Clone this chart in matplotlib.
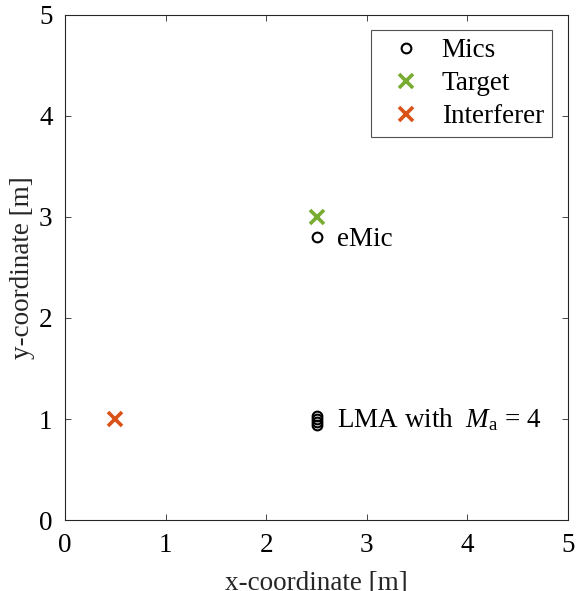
import numpy as np
import matplotlib.pyplot as plt

plt.rcParams['font.family'] = ['Liberation Serif', 'DejaVu Serif']
plt.rcParams['mathtext.fontset'] = 'custom'
plt.rcParams['mathtext.rm'] = 'Liberation Serif'
plt.rcParams['mathtext.it'] = 'Liberation Serif:italic'

# microphone positions: eMic plus 4-element linear array
mic_x = [2.5, 2.5, 2.5, 2.5, 2.5]
mic_y = [2.8, 0.94, 0.97, 1.0, 1.03]
target_x = [2.5]
target_y = [3.0]
interf_x = [0.5]
interf_y = [1.0]

green = '#77AC30'
orange = '#D95319'
fs = 19.5

fig = plt.figure(figsize=(5.76, 5.91), dpi=100)
ax = fig.add_axes([0.113, 0.12, 0.873, 0.855])

ax.plot(mic_x, mic_y, 'o', mfc='none', mec='k', ms=7, mew=1.5, label='Mics')
ax.plot(target_x, target_y, 'x', color=green, ms=10, mew=2.6, label='Target')
ax.plot(interf_x, interf_y, 'x', color=orange, ms=10, mew=2.6, label='Interferer')

ax.text(2.7, 2.78, 'eMic', fontsize=fs, va='center')
ax.text(2.7, 0.99, r'LMA with  $M_{\mathrm{a}}$ = 4', fontsize=fs, va='center')

ax.set_xlim(0, 5)
ax.set_ylim(0, 5)
ax.set_xticks(np.arange(6))
ax.set_yticks(np.arange(6))
ax.tick_params(direction='in', top=True, right=True, labelsize=fs, length=4,
               width=0.6, color='0.15')
ax.tick_params(axis='x', pad=9)
ax.tick_params(axis='y', pad=9)
for s in ax.spines.values():
    s.set_linewidth(0.8)
    s.set_color('0.15')
ax.set_xlabel('x-coordinate [m]', fontsize=fs, labelpad=10, color='0.15')
ax.set_ylabel('y-coordinate [m]', fontsize=fs, labelpad=3, color='0.15')

leg = ax.legend(loc='upper right', fontsize=fs, fancybox=False, edgecolor='0.15',
                handletextpad=0.3, borderpad=0.3, labelspacing=0.3,
                handlelength=2.0, borderaxespad=0,
                bbox_to_anchor=(0.968, 0.970))
leg.get_frame().set_linewidth(0.8)

fig.savefig('out.png', dpi=100)
